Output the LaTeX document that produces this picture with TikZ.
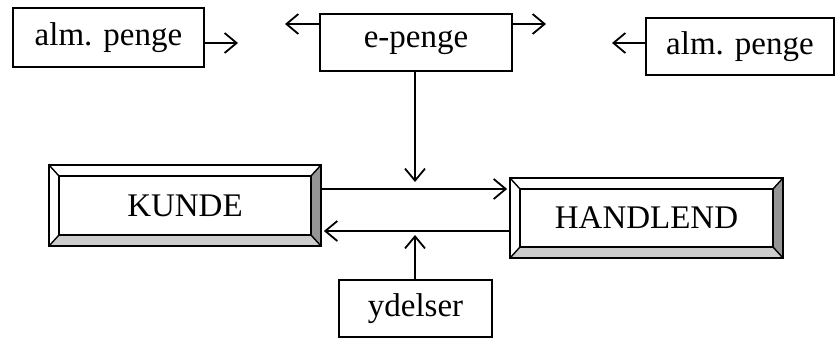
\documentclass[tikz,border=0pt]{standalone}
\usepackage{fontspec}
\setmainfont{Liberation Serif}
\usetikzlibrary{arrows.meta,calc}
\definecolor{bevelright}{HTML}{959595}
\definecolor{bevelbottom}{HTML}{CCCCCC}
\tikzset{
  box/.style={draw, line width=1.8pt, inner sep=0pt, font=\fontsize{33}{38}\selectfont},
  flow/.style={line width=1.8pt, -{Straight Barb[length=12pt,width=20pt,line width=1.8pt]}},
}
% bevelled frame around a named node: light top/left, shaded right/bottom
\newcommand\bevelframe[1]{%
  \fill[bevelright] (#1.north east) -- (#1.south east) -- ($(#1.south east)+(-10,-11)$) -- ($(#1.north east)+(-10,11)$) -- cycle;
  \fill[bevelbottom] (#1.south west) -- (#1.south east) -- ($(#1.south east)+(-10,-11)$) -- ($(#1.south west)+(10,-11)$) -- cycle;
  \draw[line width=1.8pt] ($(#1.north west)+(10,11)$) rectangle ($(#1.south east)+(-10,-11)$);
  \draw[line width=1.4pt] (#1.north west) -- ($(#1.north west)+(10,11)$)
    (#1.north east) -- ($(#1.north east)+(-10,11)$)
    (#1.south west) -- ($(#1.south west)+(10,-11)$)
    (#1.south east) -- ($(#1.south east)+(-10,-11)$);
  \draw[line width=1.8pt] (#1.north west) rectangle (#1.south east);
}
\begin{document}
\begin{tikzpicture}[x=1pt,y=-1pt]
\useasboundingbox (0,0) rectangle (835,338);

\node[box, minimum width=191pt, minimum height=59pt] (alm1) at (108.5,37.5) {alm. penge};
\node[box, minimum width=192pt, minimum height=57pt] (epenge) at (416,42.5) {e-penge};
\node[box, minimum width=188pt, minimum height=57pt] (alm2) at (740,46.5) {alm. penge};
\node[box, minimum width=153pt, minimum height=57pt] (ydelser) at (415.5,308.5) {ydelser};

\node[box, draw=none, minimum width=270pt, minimum height=79pt] (kunde) at (185,205.5) {KUNDE};
\node[box, draw=none, minimum width=271pt, minimum height=78pt] (handlend) at (646.5,218) {HANDLEND};
\bevelframe{kunde}
\bevelframe{handlend}

% free ends of the money arrows
\coordinate (a1) at (238,43);
\coordinate (eL) at (285,24);
\coordinate (eR) at (546,24);
\coordinate (a2) at (612,43);
\coordinate (down) at (415,182);
\coordinate (up) at (415,235);

\draw[flow] (alm1.east |- a1) -- (a1);
\draw[flow] (epenge.west |- eL) -- (eL);
\draw[flow] (epenge.east |- eR) -- (eR);
\draw[flow] (alm2.west |- a2) -- (a2);
\draw[flow] (epenge.south -| down) -- (down);
\draw[flow] (ydelser.north -| up) -- (up);

\draw[flow] (kunde.east |- 0,189) -- ([xshift=-3pt]handlend.west |- 0,189);
\draw[flow] (handlend.west |- 0,231) -- ([xshift=3pt]kunde.east |- 0,231);
\end{tikzpicture}
\end{document}
